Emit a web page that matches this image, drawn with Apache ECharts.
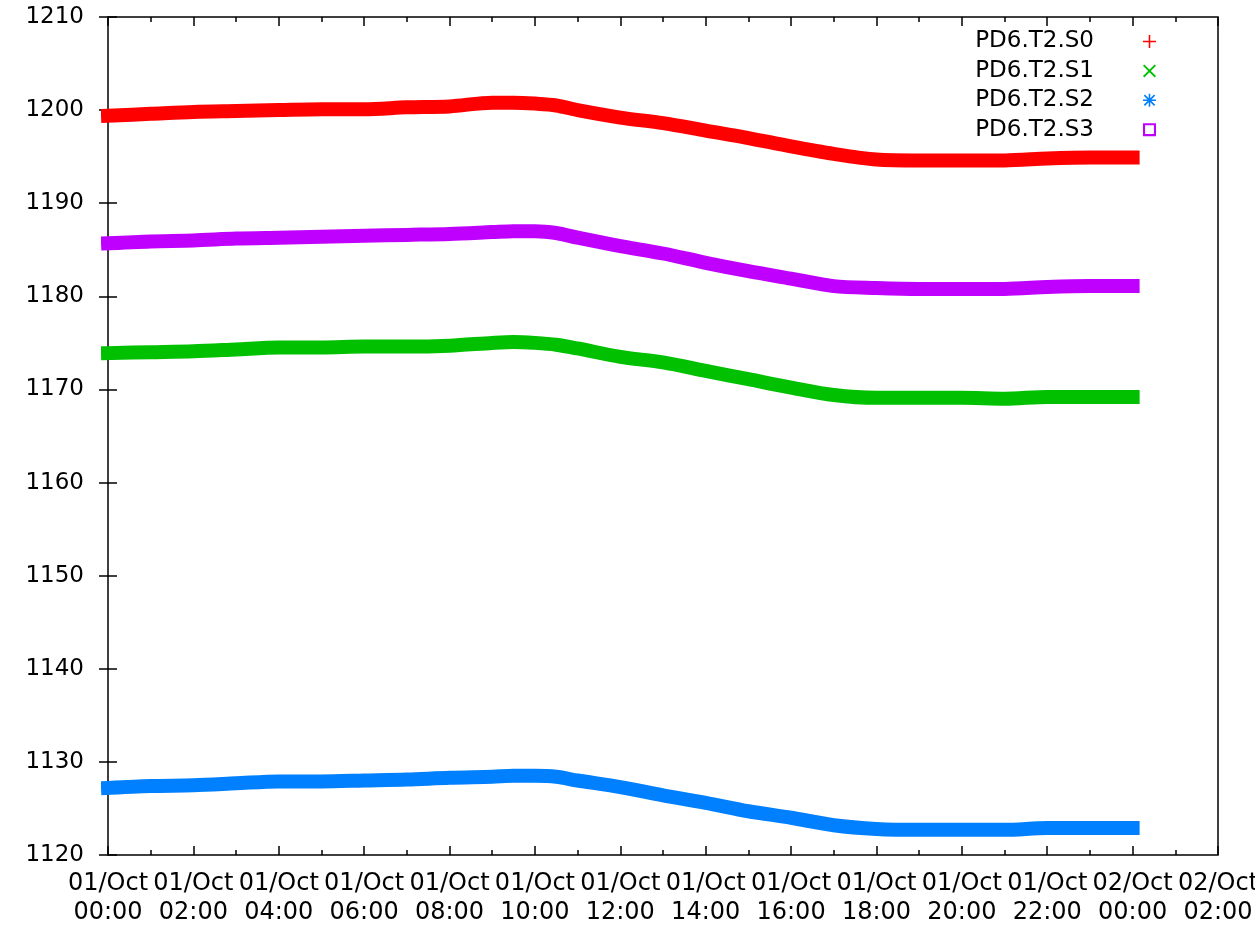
<!DOCTYPE html>
<html>
<head>
<meta charset="utf-8">
<script src="https://cdn.jsdelivr.net/npm/echarts@6/dist/echarts.min.js"></script>
<style>
  html, body { margin: 0; padding: 0; background: #fff; }
  #chart { width: 1255px; height: 929px; }
</style>
</head>
<body>
<div id="chart"></div>
<script>
// Hours since 01/Oct 00:00
const hours = [0, 1, 2, 3, 4, 5, 6, 7, 8, 9, 9.5, 10, 10.5, 11, 12, 13, 14, 15, 16, 17, 18, 19, 20, 21, 22, 23, 24];

const s0 = [1199.4, 1199.6, 1199.8, 1199.9, 1200.0, 1200.1, 1200.1, 1200.3, 1200.4, 1200.8, 1200.8, 1200.7, 1200.5, 1200.0, 1199.2, 1198.6, 1197.8, 1197.0, 1196.1, 1195.3, 1194.7, 1194.6, 1194.6, 1194.6, 1194.8, 1194.9, 1194.9];
const s1 = [1173.9, 1174.0, 1174.1, 1174.3, 1174.5, 1174.5, 1174.6, 1174.6, 1174.7, 1175.0, 1175.1, 1175.0, 1174.8, 1174.4, 1173.5, 1172.9, 1172.0, 1171.1, 1170.2, 1169.4, 1169.1, 1169.1, 1169.1, 1169.0, 1169.2, 1169.2, 1169.2];
const s2 = [1127.2, 1127.4, 1127.5, 1127.7, 1127.9, 1127.9, 1128.0, 1128.1, 1128.3, 1128.4, 1128.5, 1128.5, 1128.4, 1128.0, 1127.3, 1126.4, 1125.6, 1124.7, 1124.0, 1123.2, 1122.8, 1122.7, 1122.7, 1122.7, 1122.9, 1122.9, 1122.9];
const s3 = [1185.7, 1185.9, 1186.0, 1186.2, 1186.3, 1186.4, 1186.5, 1186.6, 1186.7, 1186.9, 1187.0, 1187.0, 1186.8, 1186.3, 1185.4, 1184.6, 1183.6, 1182.7, 1181.9, 1181.1, 1180.9, 1180.8, 1180.8, 1180.8, 1181.0, 1181.1, 1181.1];

const seriesNames = ['PD6.T2.S0', 'PD6.T2.S1', 'PD6.T2.S2', 'PD6.T2.S3'];
const seriesColors = ['#ff0000', '#00c000', '#0080ff', '#c000ff'];

const xTickLabels = [
  '01/Oct\n00:00', '01/Oct\n02:00', '01/Oct\n04:00', '01/Oct\n06:00', '01/Oct\n08:00',
  '01/Oct\n10:00', '01/Oct\n12:00', '01/Oct\n14:00', '01/Oct\n16:00', '01/Oct\n18:00',
  '01/Oct\n20:00', '01/Oct\n22:00', '02/Oct\n00:00', '02/Oct\n02:00'
];

// point-type glyphs for the key
const icons = [
  'path://M4.4,0H5.6V4.4H10V5.6H5.6V10H4.4V5.6H0V4.4H4.4Z',
  'path://M0.5,1.4L1.4,0.5L9.5,8.6L8.6,9.5Z M8.6,0.5L9.5,1.4L1.4,9.5L0.5,8.6Z',
  'path://M4.4,0H5.6V10H4.4Z M0,4.4H10V5.6H0Z M0.6,1.5L1.5,0.6L9.4,8.5L8.5,9.4Z M8.5,0.6L9.4,1.5L1.5,9.4L0.6,8.5Z',
  'path://M0,0H10V10H0Z M1.6,1.6V8.4H8.4V1.6Z'
];

const font = 'DejaVu Sans';
const allSeries = [s0, s1, s2, s3];
const tickStyle = { color: '#000', width: 1.5 };

const chart = echarts.init(document.getElementById('chart'), null, { renderer: 'canvas' });

chart.setOption({
  backgroundColor: '#ffffff',
  animation: false,
  grid: {
    left: 108, right: 37, top: 17, bottom: 74,
    outerBoundsMode: 'none',
    containLabel: false,
    show: true, borderColor: '#000', borderWidth: 1.5, backgroundColor: 'transparent'
  },
  legend: {
    orient: 'vertical',
    align: 'right',
    right: 94,
    top: 25,
    itemWidth: 13,
    itemHeight: 13,
    itemGap: 6.4,
    itemStyle: { borderWidth: 0 },
    textStyle: { fontFamily: font, fontSize: 23, color: '#000', lineHeight: 20, padding: [0, 44, 0, 0] },
    data: seriesNames.map((n, i) => ({ name: n, icon: icons[i] }))
  },
  xAxis: [{
    type: 'value', min: 0, max: 26, interval: 2,
    axisLine: { show: false },
    splitLine: { show: false },
    axisTick: { show: true, inside: true, length: 9, lineStyle: tickStyle },
    minorTick: { show: true, splitNumber: 2, length: 5, lineStyle: tickStyle },
    axisLabel: {
      fontFamily: font, fontSize: 24, color: '#000', lineHeight: 29, margin: 14,
      showMaxLabel: true, showMinLabel: true,
      formatter: v => xTickLabels[Math.round(v / 2)]
    }
  }, {
    type: 'value', min: 0, max: 26, interval: 2, position: 'top',
    axisLine: { show: false }, splitLine: { show: false },
    axisTick: { show: true, inside: true, length: 9, lineStyle: tickStyle },
    minorTick: { show: true, splitNumber: 2, length: 5, lineStyle: tickStyle },
    axisLabel: { show: false }
  }],
  yAxis: [{
    type: 'value', min: 1120, max: 1210, interval: 10,
    axisLine: { show: false }, splitLine: { show: false },
    axisTick: { show: true, inside: true, length: 9, lineStyle: tickStyle },
    axisLabel: { fontFamily: font, fontSize: 23, color: '#000', margin: 24, formatter: v => String(v) }
  }, {
    type: 'value', min: 1120, max: 1210, interval: 10, position: 'right',
    axisLine: { show: false }, splitLine: { show: false },
    axisTick: { show: true, inside: true, length: 9, lineStyle: tickStyle },
    axisLabel: { show: false }
  }],
  series: allSeries.map((vals, i) => ({
    name: seriesNames[i],
    type: 'line',
    data: hours.map((h, k) => [h, vals[k]]),
    showSymbol: false,
    symbol: 'none',
    smooth: 0.3,
    clip: false,
    color: seriesColors[i],
    itemStyle: { color: seriesColors[i] },
    lineStyle: { color: seriesColors[i], width: 14, cap: 'square' }
  }))
});
</script>
</body>
</html>
